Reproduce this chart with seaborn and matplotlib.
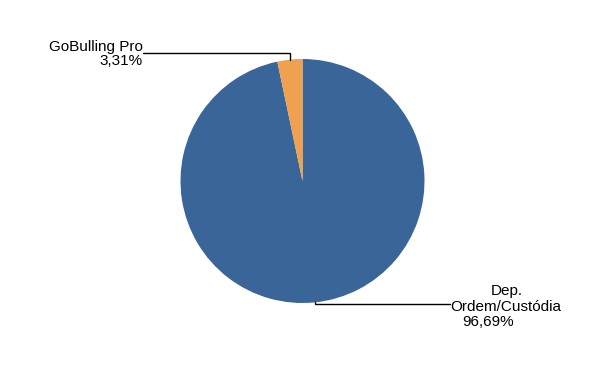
import numpy as np
import matplotlib
matplotlib.use("Agg")
import matplotlib.pyplot as plt
import seaborn as sns

labels = ["Dep. Ordem/Custódia", "GoBulling Pro"]
values = [96.69, 3.31]
value_labels = ["96,69%", "3,31%"]
colors = ["#3A6598", "#F0A150"]

sns.set_theme(style="white")
plt.rcParams["font.family"] = ["Liberation Sans", "DejaVu Sans"]

W, H = 595, 369
fig = plt.figure(figsize=(W / 100, H / 100), dpi=100)
ax = fig.add_axes([0, 0, 1, 1])

cx, cy, r = 302.5, H - 181, 122
ax.pie(values, colors=colors, startangle=90, counterclock=False,
       center=(cx, cy), radius=r, frame=True,
       wedgeprops=dict(linewidth=0))
ax.set_xlim(0, W)
ax.set_ylim(0, H)
ax.set_aspect("equal")
ax.axis("off")

# mid angles
total = sum(values)
start = 90
mids = []
for v in values:
    span = v / total * 360
    mids.append(np.deg2rad(start - span / 2))
    start -= span

lw = 1.0
fs = 11
# GoBulling Pro leader
a = mids[1]
px, py = cx + r * np.cos(a), cy + r * np.sin(a)
ly = H - 52.5
ax.plot([px, px, 143], [py, ly, ly], color="black", lw=lw, solid_joinstyle="miter")
ax.text(143, H - 54, f"{labels[1]}\n{value_labels[1]}", ha="right", va="center",
        multialignment="right", fontsize=fs, color="black", linespacing=1.05)

# Dep. leader
a = mids[0]
px, py = cx + r * np.cos(a), cy + r * np.sin(a)
ly = H - 304
ax.plot([px, px, 450], [py, ly, ly], color="black", lw=lw, solid_joinstyle="miter")
p1, p2 = labels[0].split(" ", 1)
ax.text(507, H - 291, p1, ha="center", va="center", fontsize=fs, color="black")
ax.text(450, H - 307, p2, ha="left", va="center", fontsize=fs, color="black")
ax.text(488, H - 322.5, value_labels[0], ha="center", va="center", fontsize=fs, color="black")

fig.savefig("out.png", dpi=100, facecolor="white")
